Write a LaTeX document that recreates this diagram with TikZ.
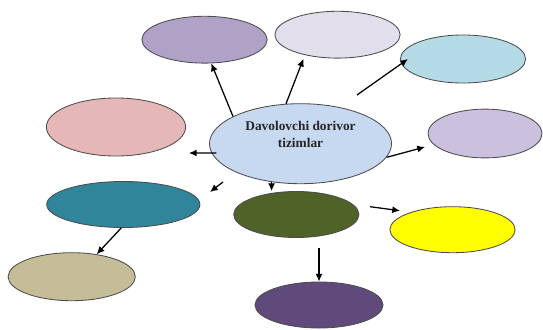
\documentclass[tikz,border=0pt]{standalone}
\usepackage{fontspec}
\setmainfont{Liberation Serif}
\usetikzlibrary{arrows.meta, shapes.geometric}

\definecolor{violetA}{RGB}{176,161,199}
\definecolor{lilacA}{RGB}{226,222,235}
\definecolor{skyA}{RGB}{180,219,229}
\definecolor{roseA}{RGB}{229,183,183}
\definecolor{mauveA}{RGB}{203,192,222}
\definecolor{doriA}{RGB}{198,217,240}
\definecolor{tealA}{RGB}{49,133,155}
\definecolor{oliveA}{RGB}{79,98,40}
\definecolor{yellowA}{RGB}{255,255,0}
\definecolor{sandA}{RGB}{196,189,151}
\definecolor{plumA}{RGB}{96,74,123}

\begin{document}
\begin{tikzpicture}[
  x=0.025cm, y=-0.025cm,
  blob/.style={ellipse, draw=black!70, line width=0.6pt, inner sep=0pt, minimum width=3.13cm, minimum height=1.17cm},
  hub/.style={blob, fill=doriA, minimum width=4.55cm, minimum height=2cm, align=center, font=\fontsize{9.5}{11.8}\selectfont\bfseries, text=black!85},
  arrow/.style={-{Latex[length=5.5pt, width=5pt]}, line width=0.9pt}
]
\useasboundingbox (0,0) rectangle (543,329);

% Central node
\node[hub, text depth=13pt] (dori) at (300.5,143.7) {Davolovchi dorivor\\tizimlar};

% Upper ellipses
\node[blob, fill=violetA] (violet) at (204.5,39.7) {};
\node[blob, fill=lilacA] (lilac) at (337.5,34.7) {};
\node[blob, fill=skyA, minimum height=1.2cm] (sky) at (463,59) {};

% Side ellipses
\node[blob, fill=roseA, minimum width=3.48cm, minimum height=1.45cm] (rose) at (116,127) {};
\node[blob, fill=mauveA, minimum width=2.85cm, minimum height=1.22cm] (mauve) at (485,133.5) {};

% Lower ellipses
\node[blob, fill=tealA, minimum width=3.83cm, minimum height=1.15cm] (teal) at (123.3,204.5) {};
\node[blob, fill=oliveA, minimum height=1.15cm] (olive) at (296.3,214.5) {};
\node[blob, fill=yellowA, minimum height=1.15cm] (yellow) at (452.5,229.7) {};
\node[blob, fill=sandA, minimum width=3.18cm, minimum height=1.2cm] (sand) at (71.7,276.7) {};
\node[blob, fill=plumA, minimum width=3.2cm, minimum height=1.15cm] (plum) at (319,305) {};

% Free ends
\coordinate (skytail) at (357,95);
\coordinate (lefttip) at (189,153);
\coordinate (righttip) at (425,147);
\coordinate (diagtail) at (223,182);
\coordinate (diagtip) at (210,192);
\coordinate (yeltail) at (370,206.7);
\coordinate (yeltip) at (400,210.7);
\coordinate (plumtail) at (319,248.3);

% Arrows
\draw[arrow] (dori.158) -- (violet.286);
\draw[arrow, shorten >=1mm] (dori.110) -- (lilac.212);
\draw[arrow] (skytail) -- ([xshift=2mm]sky.west);
\draw[arrow, shorten <=-1.2mm] (dori.186) -- (lefttip);
\draw[arrow] (dori.351) -- (righttip);
\draw[arrow] (diagtail) -- (diagtip);
\draw[arrow] (dori.233) -- (dori.233 |- olive.north);
\draw[arrow] (yeltail) -- (yeltip);
\draw[arrow] (teal.265) -- (sand.42);
\draw[arrow] (plumtail) -- (plum.north);

\end{tikzpicture}
\end{document}
